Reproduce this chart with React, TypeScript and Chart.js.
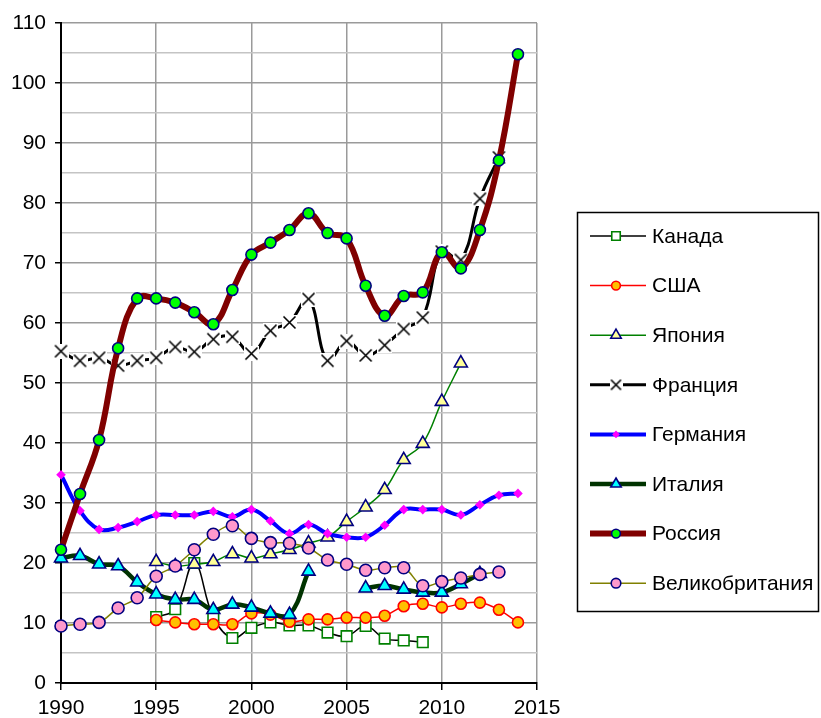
import React, { useEffect, useRef } from "react";
import { Chart, registerables } from "chart.js";
Chart.register(...registerables);

const years = [1990, 1991, 1992, 1993, 1994, 1995, 1996, 1997, 1998, 1999, 2000, 2001, 2002, 2003, 2004, 2005, 2006, 2007, 2008, 2009, 2010, 2011, 2012, 2013, 2014];

const canada = [null, null, null, null, null, 11, 12.3, 20, 11, 7.5, 9.2, 10.1, 9.6, 9.6, 8.4, 7.8, 9.5, 7.4, 7.1, 6.8, null, null, null, null, null];
const usa = [null, null, null, null, null, 10.5, 10.1, 9.8, 9.8, 9.8, 11.6, 11.4, 10.2, 10.6, 10.6, 10.9, 10.9, 11.2, 12.8, 13.2, 12.6, 13.2, 13.4, 12.2, 10.1];
const japan = [null, null, null, null, null, 20.2, 19.5, 19.8, 20.2, 21.5, 20.8, 21.5, 22.2, 23.3, 24.3, 26.9, 29.3, 32.2, 37.2, 39.9, 46.9, 53.3, null, null, null];
const france = [55.3, 53.7, 54.2, 52.9, 53.7, 54.2, 56, 55.2, 57.3, 57.7, 54.9, 58.7, 60.1, 64, 53.7, 57, 54.6, 56.3, 59, 60.9, 71.9, 70.5, 80.7, 87.6, null];
const germany = [34.7, 28.7, 25.6, 25.9, 26.9, 28, 28, 28, 28.6, 27.7, 28.9, 27, 24.9, 26.4, 24.9, 24.3, 24.3, 26.3, 28.9, 28.9, 28.9, 28, 29.7, 31.3, 31.6];
const italy = [20.8, 21.2, 19.8, 19.5, 16.8, 14.8, 13.9, 13.9, 12.2, 13.1, 12.6, 11.6, 11.4, 18.6, null, null, 15.8, 16.2, 15.6, 15.1, 15.1, 16.5, 18.2, null, null];
const russia = [22.2, 31.5, 40.5, 55.8, 64.1, 64.1, 63.4, 61.8, 59.8, 65.5, 71.4, 73.4, 75.5, 78.3, 75, 74.1, 66.2, 61.2, 64.5, 65.1, 71.8, 69.1, 75.5, 87.1, 104.8];
const uk = [9.5, 9.8, 10.1, 12.5, 14.2, 17.8, 19.5, 22.2, 24.8, 26.2, 24.1, 23.4, 23.3, 22.5, 20.5, 19.8, 18.8, 19.2, 19.2, 16.2, 16.9, 17.5, 18.1, 18.5, null];

const seriesNames = ["Канада", "США", "Япония", "Франция", "Германия", "Италия", "Россия", "Великобритания"];
const seriesValues = [canada, usa, japan, france, germany, italy, russia, uk];

const xTicks = [1990, 1995, 2000, 2005, 2010, 2015];
const yMin = 0;
const yMax = 110;

const FONT = '"Liberation Sans", Arial, sans-serif';

type Style = {
  line: string;
  width: number;
  marker: string;
  fill: string;
  stroke: string;
  r: number;
  bw: number;
};

const styles: Style[] = [
  { line: "#000000", width: 1.5, marker: "rect", fill: "#ffffff", stroke: "#008000", r: 7.5, bw: 1.6 },
  { line: "#ff0000", width: 1.5, marker: "circle", fill: "#ffc000", stroke: "#ff0000", r: 5.5, bw: 1.6 },
  { line: "#008000", width: 1.5, marker: "triangle", fill: "#ffff99", stroke: "#000080", r: 7.5, bw: 1.6 },
  { line: "#000000", width: 3, marker: "cross", fill: "#ffffff", stroke: "#000000", r: 6.5, bw: 1.6 },
  { line: "#0000ff", width: 4, marker: "rectRot", fill: "#ff00ff", stroke: "#ff00ff", r: 4.8, bw: 0 },
  { line: "#003300", width: 4.5, marker: "triangle", fill: "#00ffff", stroke: "#000080", r: 7.5, bw: 1.6 },
  { line: "#800000", width: 6, marker: "circle", fill: "#00ff00", stroke: "#000080", r: 5.5, bw: 1.6 },
  { line: "#808000", width: 1.5, marker: "circle", fill: "#ff99cc", stroke: "#000080", r: 6, bw: 1.6 },
];

function makeCross(size: number): HTMLCanvasElement {
  const c = document.createElement("canvas");
  c.width = size;
  c.height = size;
  const g = c.getContext("2d")!;
  g.fillStyle = "#ffffff";
  g.fillRect(0, 0, size, size);
  g.strokeStyle = "#000000";
  g.lineWidth = 1.6;
  const m = 1.5;
  g.beginPath();
  g.moveTo(m, m);
  g.lineTo(size - m, size - m);
  g.moveTo(size - m, m);
  g.lineTo(m, size - m);
  g.stroke();
  return c;
}

function drawMarker(ctx: CanvasRenderingContext2D, s: Style, x: number, y: number, scale: number, cross: HTMLCanvasElement) {
  const r = s.r * scale;
  ctx.save();
  ctx.fillStyle = s.fill;
  ctx.strokeStyle = s.stroke;
  ctx.lineWidth = s.bw;
  ctx.beginPath();
  if (s.marker === "cross") {
    ctx.drawImage(cross, x - cross.width / 2, y - cross.height / 2);
    ctx.restore();
    return;
  }
  if (s.marker === "circle") {
    ctx.arc(x, y, r, 0, Math.PI * 2);
  } else if (s.marker === "rect") {
    const h = r * Math.SQRT1_2;
    ctx.rect(x - h, y - h, 2 * h, 2 * h);
  } else if (s.marker === "rectRot") {
    ctx.moveTo(x, y - r);
    ctx.lineTo(x + r, y);
    ctx.lineTo(x, y + r);
    ctx.lineTo(x - r, y);
    ctx.closePath();
  } else if (s.marker === "triangle") {
    for (let k = 0; k < 3; k++) {
      const a = (k * 2 * Math.PI) / 3;
      const px = x + Math.sin(a) * r;
      const py = y - Math.cos(a) * r;
      if (k === 0) ctx.moveTo(px, py);
      else ctx.lineTo(px, py);
    }
    ctx.closePath();
  }
  ctx.fill();
  if (s.bw > 0) ctx.stroke();
  ctx.restore();
}

export default function App() {
  const ref = useRef<HTMLCanvasElement | null>(null);

  useEffect(() => {
    if (!ref.current) return;
    const cross = makeCross(15);
    const crossSmall = makeCross(13);
    const n = seriesNames.length;

    const datasets = seriesNames.map((name, i) => {
      const s = styles[i];
      return {
        label: name,
        data: years.map((yr, k) => ({ x: yr, y: seriesValues[i][k] })),
        borderColor: s.line,
        borderWidth: s.width,
        backgroundColor: s.fill,
        pointStyle: s.marker === "cross" ? cross : s.marker,
        pointRadius: s.r,
        pointBorderColor: s.stroke,
        pointBackgroundColor: s.fill,
        pointBorderWidth: s.bw,
        tension: 0.4,
        spanGaps: false,
        clip: false as any,
        order: n - i,
        fill: false,
      };
    });

    const legendPlugin = {
      id: "customLegend",
      afterDraw(chart: any) {
        const ctx: CanvasRenderingContext2D = chart.ctx;
        ctx.save();
        ctx.fillStyle = "#ffffff";
        ctx.fillRect(577, 212, 242, 400);
        ctx.strokeStyle = "#000000";
        ctx.lineWidth = 1.5;
        ctx.strokeRect(577.5, 212.5, 241, 399);
        seriesNames.forEach((name, i) => {
          const s = styles[i];
          const y = 236 + i * 49.6;
          ctx.strokeStyle = s.line;
          ctx.lineWidth = s.width;
          ctx.beginPath();
          ctx.moveTo(590, y);
          ctx.lineTo(646, y);
          ctx.stroke();
          drawMarker(ctx, s, 616, y, 0.8, crossSmall);
          ctx.fillStyle = "#000000";
          ctx.font = `21px ${FONT}`;
          ctx.textBaseline = "middle";
          ctx.textAlign = "left";
          ctx.fillText(name, 652, y + 1);
        });
        ctx.restore();
      },
    };

    const chart = new Chart(ref.current, {
      type: "line",
      data: { datasets: datasets as any },
      options: {
        animation: false,
        responsive: true,
        maintainAspectRatio: false,
        layout: { padding: { left: 0, top: 23, right: 284, bottom: 0 } },
        plugins: {
          legend: { display: false },
          tooltip: { enabled: false },
        },
        scales: {
          x: {
            type: "linear",
            min: xTicks[0],
            max: xTicks[xTicks.length - 1],
            afterBuildTicks: (scale: any) => {
              scale.ticks = xTicks.map((v) => ({ value: v }));
            },
            afterFit: (scale: any) => {
              scale.height = 35;
            },
            ticks: {
              color: "#000000",
              font: { family: FONT, size: 21 },
              padding: 6,
              maxRotation: 0,
              autoSkip: false,
              callback: (v: any) => String(v),
            },
            grid: {
              color: "#9a9a9a",
              lineWidth: 1.5,
              tickColor: "#000000",
              tickLength: 7,
            },
            border: { color: "#000000", width: 2 },
          },
          y: {
            type: "linear",
            min: yMin,
            max: yMax,
            afterFit: (scale: any) => {
              scale.width = 61;
            },
            ticks: {
              stepSize: 5,
              color: "#000000",
              font: { family: FONT, size: 21 },
              padding: 9,
              autoSkip: false,
              callback: (v: any) => (Number(v) % 10 === 0 ? String(v) : ""),
            },
            grid: {
              color: (c: any) => (c.tick && c.tick.value % 10 === 0 ? "#9a9a9a" : "#c4c4c4"),
              lineWidth: 1.5,
              tickColor: (c: any) => (c.tick && c.tick.value % 10 === 0 ? "#000000" : "rgba(0,0,0,0)"),
              tickLength: 6,
            },
            border: { color: "#000000", width: 2 },
          },
        },
      },
      plugins: [legendPlugin],
    });
    return () => chart.destroy();
  }, []);

  return (
    <div style={{ position: "fixed", left: 0, top: 0, width: 821, height: 718, background: "#ffffff" }}>
      <canvas ref={ref} />
    </div>
  );
}
